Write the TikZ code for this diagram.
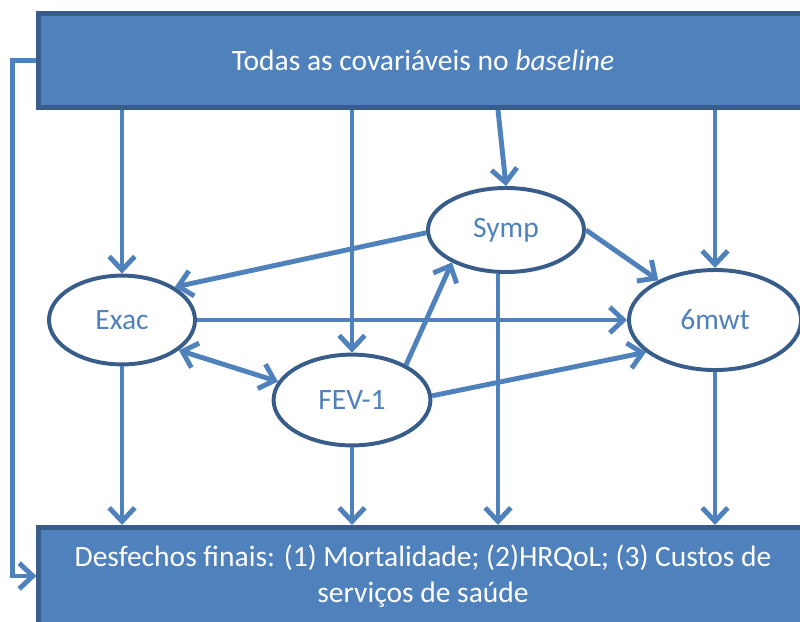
\documentclass[tikz,border=0pt]{standalone}
\usepackage{fontspec}
\setmainfont{Carlito}
\usetikzlibrary{arrows.meta,shapes.geometric}
\definecolor{boxblue}{HTML}{4F81BD}
\definecolor{rimblue}{HTML}{385D8A}

\begin{document}
\begin{tikzpicture}[x=0.025cm, y=-0.025cm,
            band/.style={rectangle, draw=rimblue, fill=boxblue, line width=3.5pt, text=white, minimum width=19.2cm, align=center, font=\fontsize{21}{25.6}\selectfont},
            state/.style={ellipse, draw=rimblue, fill=white, line width=2.8pt, text=boxblue, inner sep=0pt, font=\fontsize{21}{24}\selectfont},
            link/.style={draw=boxblue, line width=3.5pt, -{Straight Barb[length=3.4mm,width=6.4mm]}},
            twolink/.style={link, {Straight Barb[length=3.4mm,width=6.4mm]}-{Straight Barb[length=3.4mm,width=6.4mm]}}
        ]
    \useasboundingbox (0,0) rectangle (800,621);
    \clip (0,0) rectangle (800,621);

    \node[band, minimum height=2.35cm] (top)    at (423,60.5) {Todas as covariáveis no \textit{baseline}};
    \node[band, minimum height=2.43cm] (bottom) at (423,576)  {Desfechos finais: (1) Mortalidade; (2)HRQoL; (3) Custos de\\serviços de saúde};

    \node[state, minimum width=3.65cm, minimum height=2.22cm] (exac) at (122,320) {Exac};
    \node[state, minimum width=3.92cm, minimum height=2.27cm] (fev)  at (352,400) {FEV-1};
    \node[state, minimum width=3.9cm,  minimum height=2.1cm]  (symp) at (506,230) {Symp};
    \node[state, minimum width=4.3cm,  minimum height=2.5cm]  (mwt)  at (715,320) {6mwt};

    \coordinate (sline) at (498,0);

    % from the baseline box
    \draw[link] (top.south -| exac) -- (exac);
    \draw[link] (top.south -| fev) -- (fev);
    \draw[link] (top.south -| sline) -- (symp.north);
    \draw[link] (top.south -| mwt) -- (mwt);
    \draw[link] (top.west) -- ++(-24,0) |- (bottom.west);

    % between the states
    \draw[link] (symp.182) -- (exac.32);
    \draw[link] (exac.east) -- (mwt.west);
    \draw[twolink] (exac.-28) -- (fev.166);
    \draw[link] (fev.33) -- (symp.211);
    \draw[link] (fev.3) -- (mwt.205);
    \draw[link] (symp.east) -- (mwt.145);

    % to the final outcomes
    \draw[link] (exac.south) -- (exac.south |- bottom.north);
    \draw[link] (fev.south) -- (fev.south |- bottom.north);
    \draw[link] (symp.south -| sline) -- (bottom.north -| sline);
    \draw[link] (mwt.south) -- (mwt.south |- bottom.north);
\end{tikzpicture}
\end{document}
